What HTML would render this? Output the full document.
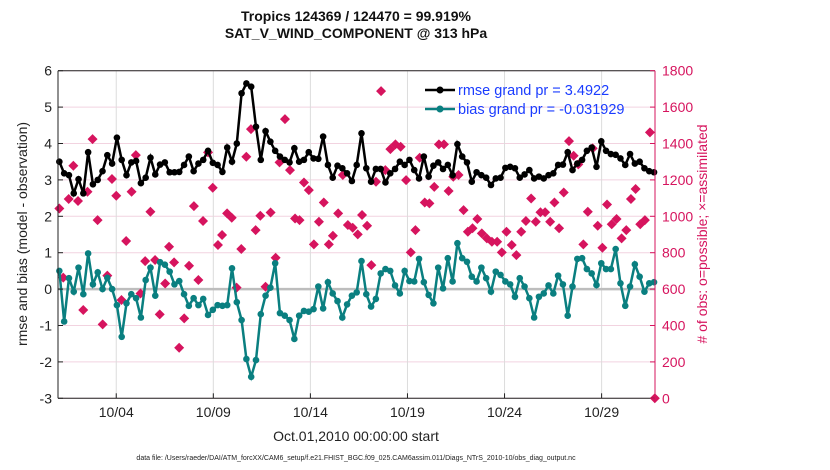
<!DOCTYPE html>
<html><head><meta charset="utf-8"><style>
body{margin:0;background:#fff;}
svg{display:block;font-family:"Liberation Sans",sans-serif;}
</style></head><body>
<svg id="chart" width="830" height="470"></svg>
<script>
const rmse=[3.5,3.18,3.13,2.63,3.02,2.63,3.76,2.88,3.0,3.24,3.68,3.45,4.16,3.55,3.13,3.48,3.52,2.91,3.06,3.61,3.15,3.42,3.48,3.21,3.21,3.22,3.41,3.64,3.24,3.45,3.55,3.8,3.47,3.41,3.22,3.89,3.5,4.0,5.38,5.65,5.56,4.46,3.55,
4.34,4.05,3.8,3.64,3.55,3.48,3.87,3.5,3.55,3.76,3.59,3.58,4.19,3.41,3.06,3.39,3.32,3.18,2.97,3.41,4.28,3.32,2.95,3.3,3.3,2.93,3.18,3.3,3.5,3.41,3.55,3.27,3.04,3.64,3.09,3.39,3.48,3.3,3.41,3.13,
3.98,3.64,3.48,2.95,3.21,3.13,3.06,2.86,3.04,3.06,3.33,3.36,3.32,3.06,3.15,3.27,3.04,3.09,3.04,3.13,3.18,3.41,3.42,3.76,3.27,3.45,3.55,3.8,3.89,3.36,4.06,3.8,3.71,3.69,3.59,3.41,3.71,3.45,3.5,3.32,3.24,3.21];
const bias=[0.50,-0.89,0.30,-0.07,0.59,-0.14,0.98,0.13,0.46,0.00,0.31,0.00,-0.44,-1.31,-0.39,-0.14,-0.25,-0.78,0.25,0.59,-0.18,0.74,0.67,0.48,0.13,0.22,-0.14,-0.46,-0.25,-0.44,-0.27,-0.71,-0.57,-0.44,-0.46,-0.44,0.57,-0.36,-0.85,-1.92,-2.41,-1.95,-0.69,
-0.18,0.04,0.71,-0.66,-0.73,-0.85,-1.37,-0.73,-0.60,-0.62,-0.55,0.07,-0.53,0.19,-0.12,-0.33,-0.78,-0.42,-0.18,-0.09,0.77,-0.14,-0.48,-0.27,0.43,0.55,0.50,0.10,-0.12,0.50,0.22,0.21,0.83,0.19,-0.16,-0.39,0.59,0.02,0.85,0.21,
1.26,0.85,0.75,0.34,0.21,0.59,0.30,-0.07,0.48,0.39,0.21,0.13,-0.21,0.30,0.07,-0.25,-0.78,-0.21,-0.12,0.10,-0.12,0.37,0.13,-0.73,0.07,0.83,0.85,0.55,0.43,0.11,0.71,0.55,0.55,1.10,0.16,-0.46,0.07,0.68,0.34,-0.07,0.16,0.19];
const obsDays=[0.07,0.27,0.55,0.79,1.03,1.30,1.52,1.78,2.04,2.30,2.54,2.78,3.00,3.27,3.51,3.79,4.01,4.25,4.49,4.76,5.00,5.24,5.52,5.72,5.98,6.24,6.50,6.75,7.00,7.23,7.47,7.73,7.97,8.24,8.45,8.71,8.95,9.20,9.44,9.70,9.94,10.18,10.42,
10.69,10.95,11.21,11.41,11.69,11.95,12.21,12.44,12.67,12.92,13.18,13.44,13.69,13.95,14.16,14.43,14.67,14.93,15.18,15.44,15.66,15.92,16.14,16.38,16.64,16.86,17.12,17.38,17.65,17.93,18.17,18.41,18.63,18.89,19.13,19.38,19.62,19.88,20.12,20.36,
20.63,20.89,21.11,21.35,21.60,21.83,22.09,22.35,22.62,22.86,23.10,23.37,23.61,23.86,24.10,24.37,24.61,24.85,25.09,25.35,25.57,25.81,26.05,26.32,26.56,26.80,27.06,27.29,27.54,27.80,28.04,28.28,28.52,28.77,29.03,29.27,29.51,29.75,29.99,30.23,30.49,30.74];
const obsCount=[1043,663,1095,1278,1084,485,1135,1424,979,406,674,1205,1113,540,864,1135,1336,576,754,1025,760,461,631,833,747,278,439,728,1056,650,974,1351,1157,842,897,1016,992,608,820,1327,1479,924,1003,
613,1021,772,1296,1534,1254,988,979,1186,1144,846,970,1076,846,893,1016,1227,952,937,901,1007,948,732,1190,1688,1254,1369,1395,1382,1199,802,924,1322,1076,1071,1162,1395,1395,1139,1217,
1227,1034,915,934,985,906,879,860,860,802,915,842,787,915,974,1098,970,1022,1022,970,1076,934,1131,1413,1333,1285,846,1025,1373,948,827,1065,956,985,879,924,1095,1150,956,979,1461,0];
const leftTicks=[-3,-2,-1,0,1,2,3,4,5,6];
const rightTicks=[0,200,400,600,800,1000,1200,1400,1600,1800];
const xTickDays=[3,8,13,18,23,28];
const xTickLabels=["10/04","10/09","10/14","10/19","10/24","10/29"];

const svg=document.getElementById('chart');
const NS='http://www.w3.org/2000/svg';
const X0=58,X1=655,Y0=70.7,Y1=398.3,DAYMAX=30.75;
const xs=d=>X0+(d/DAYMAX)*(X1-X0);
const yL=v=>Y0+(6-v)/9*(Y1-Y0);
const yR=v=>Y1-v/1800*(Y1-Y0);
const stepDay=(30.7-0.07)/(rmse.length-1);
const dayOf=i=>0.07+i*stepDay;
function mk(tag,attrs,parent){const e=document.createElementNS(NS,tag);for(const k in attrs)e.setAttribute(k,attrs[k]);(parent||svg).appendChild(e);return e;}
function txt(s,attrs,parent){const e=mk('text',attrs,parent);e.textContent=s;return e;}

const grid=mk('g',{});


leftTicks.forEach(t=>mk('line',{x1:X0,x2:X1,y1:yL(t),y2:yL(t),stroke:'#f2d3e0','stroke-width':1},grid));
xTickDays.forEach(d=>mk('line',{x1:xs(d),x2:xs(d),y1:Y0,y2:Y1,stroke:'#dcdcdc','stroke-width':1},grid));
mk('line',{x1:X0,x2:X1,y1:yL(0),y2:yL(0),stroke:'#bdbdbd','stroke-width':2.5},grid);

// obs diamonds
const obsG=mk('g',{});


obsDays.forEach((d,i)=>{const cx=xs(d),cy=yR(obsCount[i]);
 const p=mk('path',{d:`M${cx},${cy-5}L${cx+5},${cy}L${cx},${cy+5}L${cx-5},${cy}Z`,fill:'#d6145e'},obsG);
 
 });

function series(vals,color,name){const g=mk('g',{});
 
 
 mk('polyline',{points:vals.map((v,i)=>xs(dayOf(i))+','+yL(v)).join(' '),fill:'none',stroke:color,'stroke-width':2.5},g);
 vals.forEach((v,i)=>{const c=mk('circle',{cx:xs(dayOf(i)),cy:yL(v),r:3.3,fill:color},g);
  
  });}
series(bias,'#0a7f80','bias-series');
series(rmse,'#000','rmse-series');

// axes
const ax=mk('g',{});


mk('line',{x1:X0,x2:X1,y1:Y0,y2:Y0,stroke:'#222','stroke-width':1},ax);
mk('line',{x1:X0,x2:X1,y1:Y1,y2:Y1,stroke:'#222','stroke-width':1},ax);
mk('line',{x1:X0,x2:X0,y1:Y0,y2:Y1,stroke:'#222','stroke-width':1},ax);
mk('line',{x1:X1,x2:X1,y1:Y0,y2:Y1,stroke:'#d6145e','stroke-width':1},ax);
leftTicks.forEach(t=>{mk('line',{x1:X0,x2:X0+5,y1:yL(t),y2:yL(t),stroke:'#222'},ax);
 const e=txt(String(t),{x:X0-6,y:yL(t)+5,'text-anchor':'end','font-size':14,fill:'#222'},ax);
 
 });
rightTicks.forEach(t=>{mk('line',{x1:X1-5,x2:X1,y1:yR(t),y2:yR(t),stroke:'#d6145e'},ax);
 const e=txt(String(t),{x:X1+7,y:yR(t)+5,'font-size':14,fill:'#d6145e'},ax);
 
 });
xTickDays.forEach((d,i)=>{mk('line',{x1:xs(d),x2:xs(d),y1:Y1-5,y2:Y1,stroke:'#222'},ax);
 const e=txt(xTickLabels[i],{x:xs(d),y:417,'text-anchor':'middle','font-size':14,fill:'#222'},ax);
 
 });

// legend
const lg=mk('g',{});


mk('line',{x1:425,x2:455,y1:90,y2:90,stroke:'#000','stroke-width':2.5},lg);
mk('circle',{cx:440,cy:90,r:3.5,fill:'#000'},lg);
mk('line',{x1:425,x2:455,y1:109,y2:109,stroke:'#0a7f80','stroke-width':2.5},lg);
mk('circle',{cx:440,cy:109,r:3.5,fill:'#0a7f80'},lg);
txt('rmse grand pr = 3.4922',{x:458,y:95,'font-size':14.5,fill:'#1a3cff'},lg);
txt('bias grand pr = -0.031929',{x:458,y:114,'font-size':14.5,fill:'#1a3cff'},lg);
</script>
<svg width="830" height="470" style="position:absolute;left:0;top:0">
<text x="356" y="21" text-anchor="middle" font-size="14" font-weight="bold" fill="#111">Tropics 124369 / 124470 = 99.919%</text>
<text x="356" y="38" text-anchor="middle" font-size="14" font-weight="bold" fill="#111">SAT_V_WIND_COMPONENT @ 313 hPa</text>
<text transform="translate(27,234) rotate(-90)" text-anchor="middle" font-size="14" fill="#222">rmse and bias (model - observation)</text>
<text transform="translate(707,234) rotate(-90)" text-anchor="middle" font-size="14" fill="#d6145e"># of obs: o=possible; ×=assimilated</text>
<text x="356" y="441" text-anchor="middle" font-size="14" fill="#222">Oct.01,2010 00:00:00 start</text>
<text x="356" y="460" text-anchor="middle" font-size="7" fill="#222">data file: /Users/raeder/DAI/ATM_forcXX/CAM6_setup/f.e21.FHIST_BGC.f09_025.CAM6assim.011/Diags_NTrS_2010-10/obs_diag_output.nc</text>
</svg>
</body></html>
